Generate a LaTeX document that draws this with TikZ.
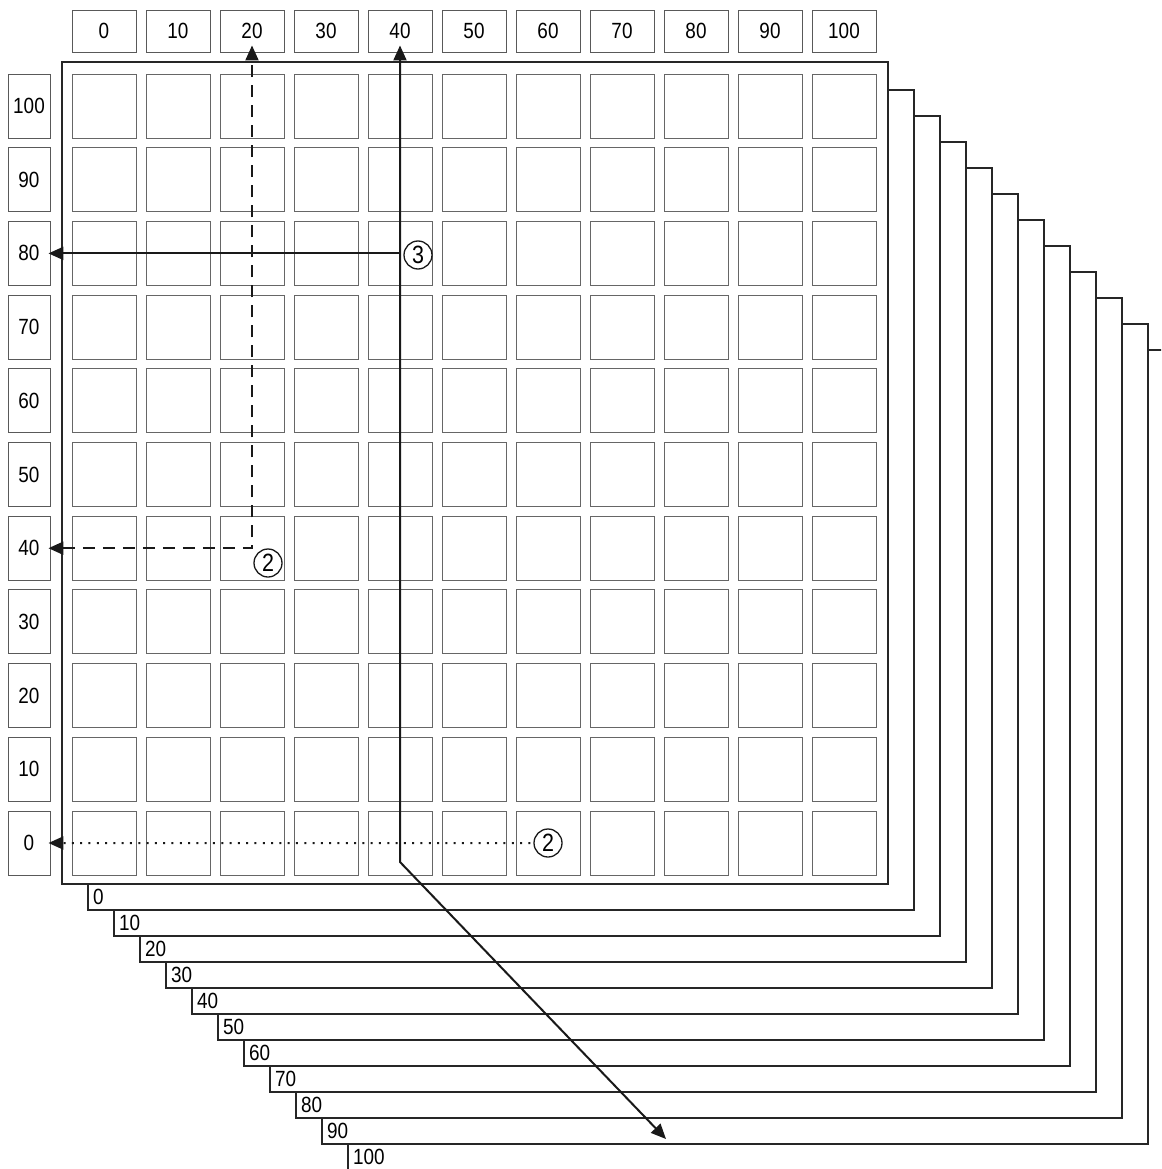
\documentclass[tikz,border=0pt]{standalone}
\usepackage{fontspec}
\setmainfont{Liberation Sans}[FakeStretch=0.86]
\usetikzlibrary{arrows.meta, positioning}

\begin{document}
\begin{tikzpicture}[
    x=1pt, y=-1pt,
    digits/.style={font=\fontsize{22}{24}\selectfont},
    hlbl/.style={rectangle, draw=black!65, line width=0.9pt, minimum width=64pt, minimum height=42pt, inner sep=0pt, digits},
    vlbl/.style={rectangle, draw=black!65, line width=0.9pt, minimum width=42pt, minimum height=64pt, inner sep=0pt, digits},
    cell/.style={rectangle, draw=black!60, line width=0.9pt, minimum size=64pt, inner sep=0pt},
    frame/.style={draw=black!85, line width=2pt},
    layer/.style={draw=black!85, line width=2pt},
    zlbl/.style={anchor=west, inner sep=0pt, digits},
    circmark/.style={circle, draw=black!90, line width=1.3pt, minimum size=28pt, inner sep=0pt, font=\fontsize{25}{27}\selectfont},
    arr/.style={-{Triangle[length=15pt, width=13pt]}, line width=2pt, draw=black!90},
    dblarr/.style={{Triangle[length=15pt, width=13pt]}-{Triangle[length=15pt, width=13pt]}, line width=2pt, draw=black!90},
    dashline/.style={dash pattern=on 12pt off 8pt},
    dotline/.style={dash pattern=on 2pt off 6.3pt}
]
\useasboundingbox (0,0) rectangle (1161,1169);
\clip (0,0) rectangle (1161,1169);

% stacked layers behind the front grid
\foreach \k in {0,...,10} {
    \pgfmathsetmacro{\o}{26*\k}
    \pgfmathtruncatemacro{\v}{10*\k}
    \draw[layer] ({88+\o},{884+\o}) -- ({88+\o},{910+\o}) -- ({914+\o},{910+\o})
        -- ({914+\o},{90+\o}) -- ({888+\o},{90+\o});
    \node[zlbl] (zl\v) at ({93+\o},{897+\o}) {\v};
}

% front frame
\draw[frame] (62,62) rectangle (888,884);

% column labels, row labels and cells
\foreach \i in {0,...,10} {
    \pgfmathtruncatemacro{\v}{10*\i}
    \node[hlbl] (xl\v) at ({104+74*\i},31) {\v};
    \pgfmathtruncatemacro{\w}{100-10*\i}
    \node[vlbl] (yl\w) at (29,{106+73.7*\i}) {\w};
    \foreach \j in {0,...,10} {
        \node[cell] (c-\i-\j) at ({104+74*\i},{106+73.7*\j}) {};
    }
}

% markers
\node[circmark] (twoA) at (268,563) {2};
\node[circmark] (twoB) at (548,843) {2};
\node[circmark] (three) at (418,255) {3};

\coordinate (dcorner) at (xl20 |- yl40);
\coordinate (scorner) at (xl40 |- yl80);
\coordinate (sbend) at (400,862);
\coordinate (send) at (666,1139);

% connectors
\draw[dblarr, dashline, shorten <=-2pt, shorten >=-7pt] (yl40) -- (dcorner) -- (xl20);
\draw[arr, shorten >=-2pt] (scorner) -- (yl80);
\draw[dblarr, shorten <=-7pt] (xl40) -- (sbend) -- (send);
\draw[arr, dotline, shorten <=3pt, shorten >=-2pt] (twoB) -- (yl0);
\end{tikzpicture}
\end{document}
